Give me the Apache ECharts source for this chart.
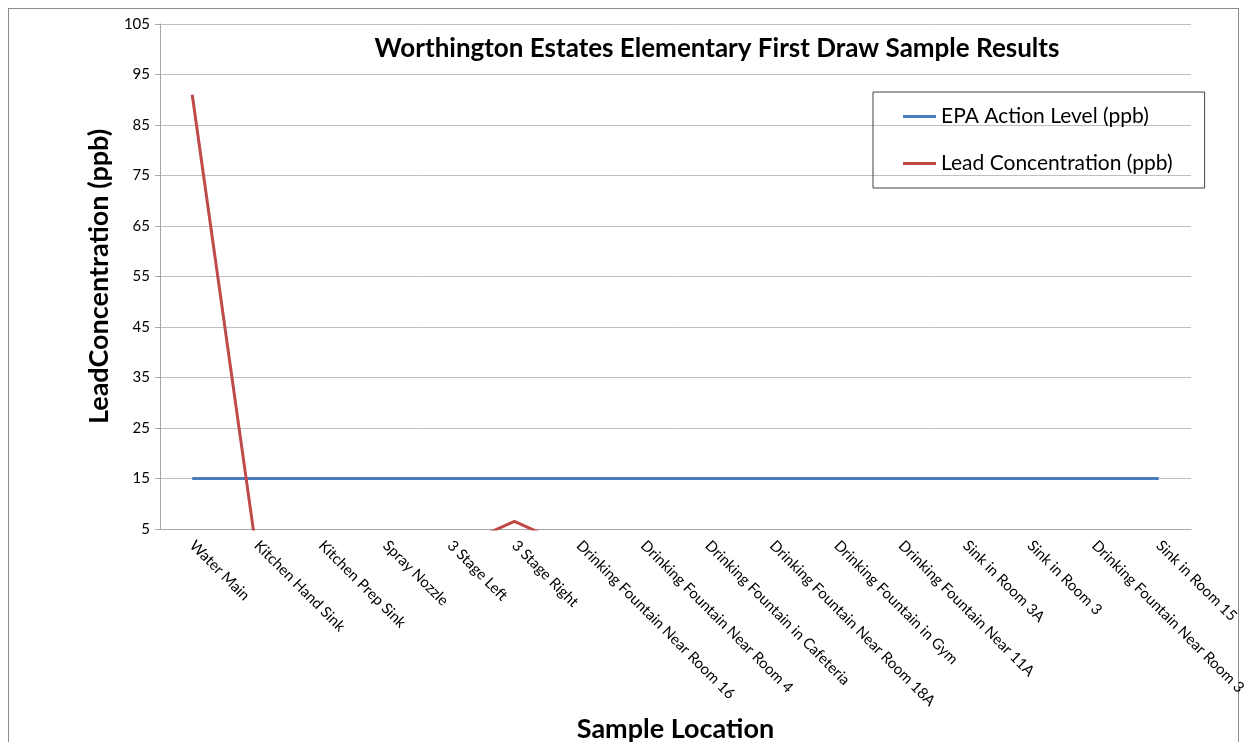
<!DOCTYPE html>
<html>
<head>
<meta charset="utf-8">
<script src="https://cdn.jsdelivr.net/npm/echarts@6/dist/echarts.min.js"></script>
<style>
  html, body { margin: 0; padding: 0; background: #fff; overflow: hidden; }
  #frame { position: absolute; left: 8px; top: 8px; width: 1231px; height: 734px; border: 1px solid #8c8c8c; border-bottom: none; box-sizing: border-box; }
  #chart { position: absolute; left: 0; top: 0; width: 1247px; height: 742px; }
</style>
</head>
<body>
<div id="frame"></div>
<div id="chart"></div>
<script>
var locations = ['Water Main', 'Kitchen Hand Sink', 'Kitchen Prep Sink', 'Spray Nozzle', '3 Stage Left',
    '3 Stage Right', 'Drinking Fountain Near Room 16', 'Drinking Fountain Near Room 4',
    'Drinking Fountain in Cafeteria', 'Drinking Fountain Near Room 18A', 'Drinking Fountain in Gym',
    'Drinking Fountain Near 11A', 'Sink in Room 3A', 'Sink in Room 3', 'Drinking Fountain Near Room 3',
    'Sink in Room 15'];
var epaLevel = [15, 15, 15, 15, 15, 15, 15, 15, 15, 15, 15, 15, 15, 15, 15, 15];
var leadValues = [91, 0.2, 1, 1, 0.8, 6.5, 0.8, 1, 1, 1, 1, 1, 1, 1, 1, 1];

var chart = echarts.init(document.getElementById('chart'));

var option = {
    backgroundColor: 'transparent',
    animation: false,
    title: {
        text: 'Worthington Estates Elementary First Draw Sample Results',
        left: 712,
        top: 31,
        textAlign: 'center',
        textStyle: {
            fontFamily: 'Lato',
            fontWeight: 'bold',
            fontSize: 26,
            color: '#000'
        }
    },
    legend: {
        orient: 'vertical',
        left: 873,
        top: 92,
        padding: [14, 32, 14, 30],
        itemGap: 26,
        itemWidth: 33,
        itemHeight: 3,
        icon: 'rect',
        borderColor: '#404040',
        borderWidth: 1,
        textStyle: {
            fontFamily: 'Lato',
            fontSize: 21,
            color: '#000'
        },
        data: ['EPA Action Level (ppb)', 'Lead Concentration (ppb)']
    },
    grid: {
        left: 160,
        right: 56,
        top: 24,
        bottom: 213,
        outerBoundsMode: 'none',
        containLabel: false
    },
    xAxis: {
        type: 'category',
        data: locations,
        boundaryGap: true,
        name: 'Sample Location',
        nameLocation: 'middle',
        nameGap: 185,
        nameTextStyle: {
            fontFamily: 'Lato',
            fontWeight: 'bold',
            fontSize: 27,
            color: '#000'
        },
        axisLine: { lineStyle: { color: '#a6a6a6', width: 1 } },
        axisTick: { alignWithLabel: false, length: 6, lineStyle: { color: '#a6a6a6' } },
        axisLabel: {
            interval: 0,
            rotate: -45,
            margin: 14,
            fontFamily: 'Lato',
            fontSize: 15,
            color: '#000'
        }
    },
    yAxis: {
        type: 'value',
        min: 5,
        max: 105,
        interval: 10,
        name: 'LeadConcentration (ppb)',
        nameLocation: 'middle',
        nameGap: 47,
        nameTextStyle: {
            fontFamily: 'Lato',
            fontWeight: 'bold',
            fontSize: 27,
            color: '#000'
        },
        axisLine: { show: true, lineStyle: { color: '#a6a6a6', width: 1 } },
        axisTick: { show: true, length: 5, lineStyle: { color: '#a6a6a6' } },
        splitLine: { lineStyle: { color: '#bfbfbf', width: 1 } },
        axisLabel: {
            margin: 10,
            fontFamily: 'Lato',
            fontSize: 15,
            color: '#000'
        }
    },
    series: [
        {
            name: 'EPA Action Level (ppb)',
            type: 'line',
            data: epaLevel,
            showSymbol: false,
            symbol: 'none',
            lineStyle: { color: '#4a7ebb', width: 3 },
            itemStyle: { color: '#4a7ebb' }
        },
        {
            name: 'Lead Concentration (ppb)',
            type: 'line',
            data: leadValues,
            showSymbol: false,
            symbol: 'none',
            clip: true,
            lineStyle: { color: '#be4b48', width: 3 },
            itemStyle: { color: '#be4b48' }
        }
    ]
};

chart.setOption(option);
</script>
</body>
</html>
